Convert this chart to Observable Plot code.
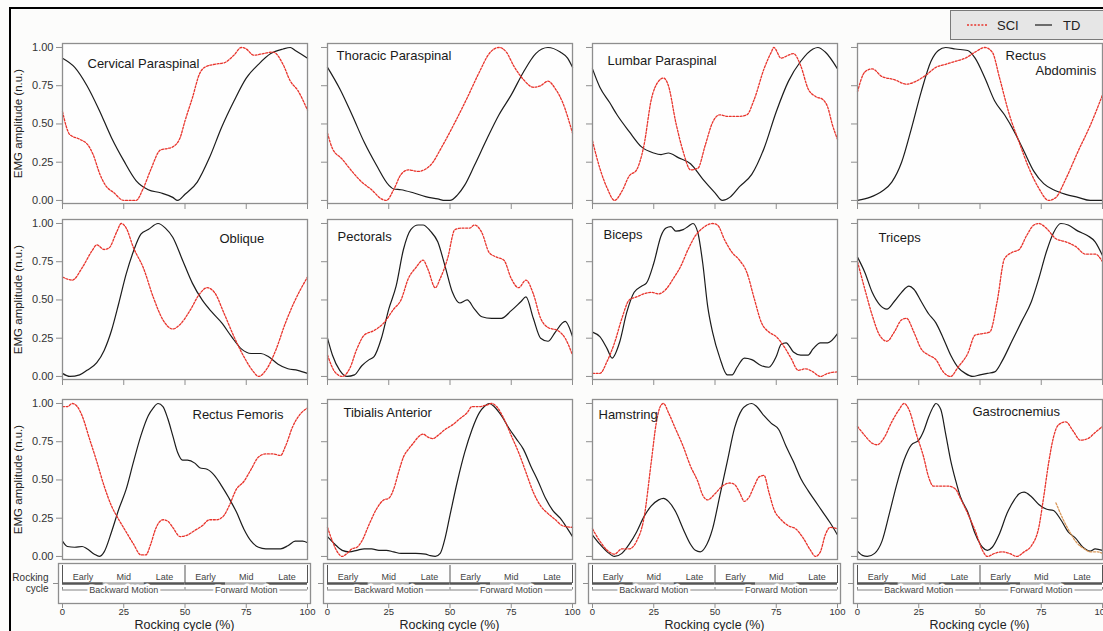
<!DOCTYPE html>
<html><head><meta charset="utf-8">
<script src="https://cdn.jsdelivr.net/npm/d3@7"></script>
<script src="https://cdn.jsdelivr.net/npm/@observablehq/plot@0.6"></script>
<style>
html,body{margin:0;padding:0;background:#fcfcfb;}
#fig{position:relative;width:1103px;height:631px;overflow:hidden;background:#fcfcfb;font-family:"Liberation Sans",Arial,Helvetica,sans-serif;}
#fig > *{position:absolute;}
</style></head>
<body><div id="fig"></div>
<script>
// ---------------- data ----------------
const muscles = ["Cervical Paraspinal","Thoracic Paraspinal","Lumbar Paraspinal","Rectus\nAbdominis",
  "Oblique","Pectorals","Biceps","Triceps",
  "Rectus Femoris","Tibialis Anterior","Hamstring","Gastrocnemius"];
const seriesNames = ["SCI","TD"];
const yTicks = [0,0.25,0.5,0.75,1];
const xTicks = [0,25,50,75,100];
const yLabel = "EMG amplitude (n.u.)";
const xLabel = "Rocking cycle (%)";
const phaseNames = ["Early","Mid","Late","Early","Mid","Late"];
const phaseBounds = [0,16.67,33.33,50,66.67,83.33,100];
const motionNames = ["Backward Motion","Forward Motion"];
const motionBounds = [0,50,100];
const stripLabel = ["Rocking","cycle"];

const cervTD=[[0,.93],[5,.87],[10,.75],[15,.59],[20,.41],[25,.26],[30,.13],[35,.07],[40,.05],[45,.02],[47,0],[50,.04],[55,.12],[60,.28],[65,.48],[70,.65],[75,.80],[80,.89],[85,.96],[90,.99],[93,1],[95,.98],[100,.93]];
const cervSCI=[[0,.58],[3,.43],[7,.40],[10.5,.36],[12.5,.30],[15.3,.17],[17.5,.10],[21,.05],[25,0],[30,0],[33,.08],[36,.2],[40,.33],[43,.34],[45,.35],[48,.41],[50,.52],[53,.67],[56,.83],[58,.87],[62,.89],[66,.90],[70,.95],[73,1],[75,.99],[78,.95],[82,.96],[86,.97],[90,.89],[93,.78],[96,.72],[100,.59]];
const thorTD=[[0,.87],[5,.73],[10,.56],[15,.38],[20,.23],[25,.10],[27,.075],[30,.07],[35,.05],[40,.025],[45,.01],[48,0],[50,0],[53,.035],[56,.1],[60,.23],[65,.40],[70,.56],[75,.69],[80,.84],[85,.96],[90,1],[95,.97],[98,.93],[100,.87]];
const thorSCI=[[0,.44],[2,.34],[6,.27],[10,.19],[14,.12],[18,.07],[22,.01],[24,0],[27,.07],[30,.17],[33,.2],[37,.19],[42,.23],[47,.36],[52,.51],[57,.67],[62,.84],[66,.96],[70,1],[73,.97],[76,.88],[80,.79],[84,.74],[87,.75],[90,.78],[93,.73],[96,.64],[100,.44]];
const lumbTD=[[0,.86],[3,.74],[7,.64],[10,.56],[15,.45],[20,.35],[25,.31],[28,.30],[31,.31],[35,.28],[40,.24],[45,.14],[50,.05],[53,0],[56,.02],[60,.09],[65,.17],[70,.34],[75,.58],[80,.78],[85,.91],[90,.99],[92,1],[95,.97],[100,.86]];
const lumbSCI=[[0,.39],[3,.21],[6,.08],[9,0],[12,.06],[15,.16],[18,.2],[21,.36],[24,.66],[27,.78],[29,.80],[31,.75],[34,.51],[37,.32],[40,.20],[43,.21],[46,.36],[49,.51],[52,.56],[55,.55],[60,.55],[63,.56],[66,.66],[70,.86],[73,.97],[74,1],[77,.93],[80,.95],[82,.96],[85,.88],[88,.73],[91,.68],[94,.66],[96,.61],[98,.49],[100,.40]];
const rabTD=[[0,0],[5,.02],[10,.06],[14,.12],[18,.25],[22,.47],[26,.71],[30,.91],[33,.98],[36,1],[40,.99],[45,.98],[48,.93],[52,.80],[56,.65],[60,.56],[64,.45],[68,.32],[72,.19],[76,.11],[80,.07],[85,.04],[90,.02],[95,0],[100,0]];
const rabSCI=[[0,.71],[3,.84],[6,.86],[10,.81],[15,.79],[20,.76],[24,.78],[28,.82],[32,.87],[36,.89],[40,.91],[44,.93],[48,.97],[52,1],[55,.97],[58,.80],[62,.56],[66,.38],[70,.21],[74,.08],[78,0],[81,.02],[85,.14],[90,.32],[95,.49],[100,.69]];
const oblTD=[[0,.02],[3,0],[7,.01],[10,.04],[14,.09],[17,.17],[20,.30],[23,.48],[26,.67],[29,.82],[32,.93],[35,.96],[39,1],[42,.97],[45,.91],[49,.76],[53,.61],[57,.50],[61,.42],[65,.35],[69,.26],[73,.18],[77,.15],[81,.15],[84,.13],[88,.08],[92,.05],[96,.04],[100,.02]];
const oblSCI=[[0,.65],[4,.63],[8,.71],[12,.82],[14,.86],[17,.83],[19,.84],[22,.94],[24,1],[26,.97],[29,.84],[33,.71],[37,.52],[41,.37],[45,.31],[48,.34],[52,.43],[56,.54],[59,.58],[62,.55],[66,.41],[70,.26],[74,.13],[78,.03],[80,0],[83,.04],[87,.17],[91,.35],[95,.50],[100,.65]];
const pecTD=[[0,.25],[2,.14],[5,.04],[8,0],[11,.01],[14,.07],[17,.11],[19,.13],[22,.25],[25,.44],[28,.59],[31,.83],[34,.96],[37,.99],[39,.99],[42,.95],[45,.88],[48,.72],[51,.55],[54,.48],[57,.50],[60,.44],[63,.39],[67,.38],[71,.38],[75,.43],[79,.49],[81,.52],[84,.38],[87,.25],[90,.23],[93,.29],[97,.36],[100,.26]];
const pecSCI=[[0,.14],[3,.03],[6,0],[9,.05],[12,.18],[15,.27],[19,.30],[23,.35],[27,.44],[30,.50],[33,.64],[36,.71],[39,.76],[41,.70],[44,.58],[46,.64],[49,.77],[52,.96],[55,.97],[58,.97],[60,.99],[63,.94],[66,.81],[69,.78],[72,.76],[75,.64],[78,.58],[81,.63],[84,.54],[87,.38],[90,.32],[94,.30],[97,.25],[100,.14]];
const bicTD=[[0,.29],[3,.26],[6,.18],[8,.12],[11,.22],[14,.42],[17,.55],[20,.59],[22,.61],[25,.74],[28,.92],[30,.97],[32,.98],[34,.95],[37,.96],[39,.98],[41,1],[43,.94],[45,.74],[47,.46],[49,.29],[52,.12],[55,.01],[57,.01],[59,.06],[62,.12],[65,.11],[69,.07],[72,.06],[75,.13],[77,.21],[79,.22],[82,.16],[85,.14],[88,.14],[90,.18],[93,.22],[96,.22],[100,.28]];
const bicSCI=[[0,.02],[3,.02],[6,.10],[9,.22],[12,.38],[15,.50],[18,.52],[21,.54],[24,.55],[27,.54],[30,.57],[33,.64],[36,.72],[39,.83],[42,.92],[45,.97],[49,1],[51,.99],[54,.89],[57,.81],[60,.76],[63,.68],[66,.51],[69,.35],[72,.29],[75,.26],[78,.20],[81,.12],[84,.04],[87,.05],[90,.03],[93,0],[96,.02],[100,.03]];
const triTD=[[0,.78],[3,.68],[6,.55],[9,.47],[12,.44],[15,.49],[18,.55],[21,.59],[23,.57],[26,.49],[29,.41],[32,.35],[35,.25],[38,.14],[41,.06],[44,.02],[47,0],[50,.01],[53,.02],[56,.03],[59,.10],[63,.23],[67,.36],[71,.49],[74,.64],[77,.81],[80,.94],[83,1],[86,.99],[90,.95],[94,.92],[97,.88],[100,.79]];
const triSCI=[[0,.75],[3,.57],[6,.40],[9,.27],[12,.23],[15,.29],[18,.37],[20,.38],[23,.29],[26,.18],[29,.14],[32,.11],[35,.03],[38,0],[41,.06],[45,.15],[48,.27],[51,.28],[54,.29],[57,.49],[60,.77],[63,.81],[66,.83],[69,.92],[72,.99],[74,1],[77,.97],[81,.90],[85,.88],[89,.85],[93,.80],[97,.80],[100,.75]];
const rfTD=[[0,.10],[2,.065],[5,.06],[8,.065],[10,.05],[13,.015],[15,0],[17,.03],[20,.16],[23,.31],[26,.44],[29,.62],[32,.79],[35,.92],[37,.97],[39,1],[41,.98],[43,.90],[45,.79],[47,.68],[49,.63],[51,.63],[54,.61],[56,.58],[59,.57],[62,.53],[65,.46],[68,.38],[71,.29],[74,.18],[77,.10],[80,.06],[83,.05],[86,.05],[89,.05],[92,.07],[95,.10],[98,.10],[100,.09]];
const rfSCI=[[0,.98],[2,.98],[4,1],[6,.98],[8,.92],[11,.77],[14,.62],[17,.46],[20,.33],[23,.24],[26,.16],[29,.08],[32,.01],[34,.01],[36,.08],[38,.18],[41,.24],[43,.23],[45,.19],[48,.13],[51,.14],[54,.17],[57,.20],[60,.24],[63,.24],[66,.27],[68,.33],[71,.44],[74,.49],[77,.57],[80,.65],[83,.67],[86,.67],[89,.66],[91,.72],[94,.85],[97,.93],[100,.97]];
const taTD=[[0,.13],[3,.08],[6,.04],[9,.03],[12,.04],[15,.05],[18,.05],[21,.04],[24,.04],[27,.03],[30,.02],[33,.02],[36,.02],[40,.015],[42,.005],[44,0],[46,.02],[48,.12],[50,.27],[53,.49],[56,.68],[59,.83],[62,.94],[64,.98],[66,1],[68,.98],[71,.92],[74,.84],[77,.77],[80,.70],[83,.59],[86,.49],[89,.38],[92,.30],[95,.25],[98,.18],[100,.13]];
const taSCI=[[0,.19],[2,.10],[4,.03],[6,0],[8,.02],[10,.05],[12,.06],[14,.10],[17,.21],[20,.31],[23,.37],[25,.38],[27,.44],[29,.55],[31,.65],[33,.70],[35,.74],[37,.78],[39,.80],[41,.78],[43,.77],[45,.79],[48,.83],[51,.86],[54,.90],[57,.94],[59,.98],[62,.98],[65,.99],[67,1],[69,.98],[72,.90],[75,.79],[78,.68],[81,.55],[84,.42],[87,.33],[90,.28],[93,.24],[96,.20],[100,.19]];
const hamTD=[[0,.14],[3,.08],[6,.03],[9,0],[12,.02],[15,.08],[18,.16],[21,.26],[24,.33],[27,.37],[29,.38],[31,.36],[34,.29],[37,.18],[40,.08],[42,.04],[44,.03],[46,.06],[49,.18],[52,.40],[55,.62],[58,.84],[61,.96],[63,.99],[65,1],[67,.98],[70,.92],[73,.87],[76,.83],[79,.72],[82,.62],[85,.51],[88,.43],[91,.36],[94,.29],[97,.22],[100,.14]];
const hamSCI=[[0,.18],[3,.10],[6,.04],[9,.015],[12,.05],[15,.05],[18,.10],[21,.25],[24,.62],[26,.87],[28,.99],[29,1],[31,.94],[34,.83],[37,.72],[40,.59],[43,.49],[45,.40],[47,.37],[50,.41],[53,.46],[56,.48],[58,.47],[60,.42],[62,.36],[64,.39],[66,.46],[68,.52],[70,.53],[72,.42],[74,.31],[77,.24],[80,.20],[83,.18],[86,.12],[89,.04],[91,0],[93,.03],[95,.14],[97,.19],[100,.18]];
const gasTD=[[0,.035],[2,.007],[4,0],[7,.02],[10,.10],[13,.28],[16,.47],[19,.63],[22,.73],[25,.76],[27,.82],[29,.91],[31,.98],[32,1],[34,.96],[36,.80],[38,.63],[40,.50],[42,.39],[45,.29],[48,.15],[51,.06],[53,.04],[55,.06],[58,.15],[61,.28],[64,.37],[66,.41],[68,.42],[71,.39],[74,.34],[77,.31],[80,.30],[83,.24],[86,.16],[89,.12],[92,.06],[95,.035],[97,.05],[100,.04]];
const gasSCI=[[0,.85],[3,.79],[6,.74],[8,.73],[11,.78],[14,.88],[17,.96],[19,1],[21,.96],[24,.80],[27,.65],[29,.52],[31,.46],[34,.46],[37,.46],[40,.44],[42,.38],[45,.28],[48,.17],[51,.04],[53,0],[56,.02],[59,.03],[62,.02],[65,0],[68,.03],[71,.07],[74,.19],[76,.39],[78,.61],[80,.78],[82,.86],[85,.88],[88,.82],[91,.76],[94,.77],[97,.81],[100,.85]];
const gasExtra=[[81,.35],[84,.24],[87,.15],[89.5,.09],[92.5,.05],[95,.03],[98,.03],[100,.02]];

const tdSeries  = [cervTD,thorTD,lumbTD,rabTD,oblTD,pecTD,bicTD,triTD,rfTD,taTD,hamTD,gasTD];
const sciSeries = [cervSCI,thorSCI,lumbSCI,rabSCI,oblSCI,pecSCI,bicSCI,triSCI,rfSCI,taSCI,hamSCI,gasSCI];
const extraSeries = {11: gasExtra};

// ---------------- layout / style ----------------
const FONT = '"Liberation Sans", Arial, Helvetica, sans-serif';
const colLeft = c => 62 + 265*c;
const rowTop = [43, 219, 399];
const PW = 245, PH = 160;
const RED = "#e8342c", BLACK = "#1c1c1c", FRAME = "#8e8e8e";
// title placement (offset from panel top-left): [dx, dy] per line
const titleOffsets = [
  [[25,20]], [[9,12]], [[15,17]], [[148,12],[178,27]],
  [[157,19]], [[10,17]], [[11,15]], [[21,18]],
  [[130,15]], [[16,13]], [[6,15]], [[115,12]]
];

const fig = document.getElementById("fig");

function panel(i) {
  const r = Math.floor(i/4), c = i%4;
  const ml = c===0 ? 54 : 8, mr = 2, mt = 1, mb = r<2 ? 9 : 1;
  const lines = muscles[i].split("\n");
  const marks = [
    Plot.frame({fill:"#fefefe", stroke:null}),
    Plot.axisY({ticks:yTicks, tickSize:6, tickPadding:3, label:null,
      tickFormat: c===0 ? d3.format(".2f") : () => "", stroke:FRAME, fill:"#333", fontSize:11}),
  ];
  if (r<2) marks.push(Plot.axisX({ticks:xTicks, tickSize:6, label:null, tickFormat:()=>"", stroke:FRAME}));
  marks.push(
    Plot.line(tdSeries[i], {x:d=>d[0], y:d=>d[1], stroke:BLACK, strokeWidth:1.2, curve:"monotone-x"}),
    Plot.line(sciSeries[i], {x:d=>d[0], y:d=>d[1], stroke:RED, strokeWidth:1.3, strokeDasharray:"2,1.6", curve:"monotone-x"})
  );
  if (extraSeries[i]) marks.push(Plot.line(extraSeries[i], {x:d=>d[0], y:d=>d[1], stroke:"#d9985a", strokeWidth:1.3, strokeDasharray:"2,1.6", curve:"monotone-x"}));
  marks.push(Plot.frame({stroke:FRAME, strokeWidth:1.3}));
  lines.forEach((t,k) => {
    const [dx,dy] = titleOffsets[i][k];
    marks.push(Plot.text([t], {frameAnchor:"top-left", text:d=>d, textAnchor:"start", lineAnchor:"middle", dx, dy, fontSize:13, fill:"#1a1a1a"}));
  });
  if (c===0) marks.push(Plot.text([yLabel], {frameAnchor:"left", text:d=>d, rotate:-90, textAnchor:"middle", lineAnchor:"middle", dx:-44, fontSize:11.5, fill:"#222"}));
  const p = Plot.plot({
    width: PW+ml+mr, height: PH+mt+mb,
    marginLeft:ml, marginRight:mr, marginTop:mt, marginBottom:mb,
    x:{domain:[0,100], axis: r<2 ? undefined : null},
    y:{domain:[-0.02,1.026]},
    style:{background:"transparent", fontFamily:FONT, overflow:"visible"},
    marks
  });
  p.style.position = "absolute";
  p.style.left = (colLeft(c)-ml)+"px";
  p.style.top = (rowTop[r]-mt)+"px";
  fig.appendChild(p);
}

const phases = phaseNames.map((n,k)=>({name:n, start:phaseBounds[k], end:phaseBounds[k+1], dark: k%3!==1}));
const motions = motionNames.map((n,k)=>({name:n, start:motionBounds[k], end:motionBounds[k+1]}));

function strip(c) {
  const ml = c===0 ? 60 : 12, mr = 6, mt = 0, mb = 28, W = 252;
  const marks = [
    Plot.frame({fill:"#fefefe", stroke:FRAME, strokeWidth:1.3}),
    Plot.axisY({ticks:[20], tickSize:5, tickFormat:()=>"", label:null, stroke:FRAME}),
    Plot.ruleX(motionBounds, {y1:()=>2, y2:()=>20, stroke:"#555", strokeWidth:1}),
    Plot.ruleY(phases, {x1:"start", x2:"end", y:()=>20, stroke:d=>d.dark?"#555":"#b0b0b0", strokeWidth:2.4}),
    Plot.text(phases, {x:d=>(d.start+d.end)/2, y:()=>14, text:"name", fontSize:9, fill:"#444"}),
    Plot.ruleY(motions, {x1:"start", x2:"end", y:()=>26.5, stroke:"#666", strokeWidth:0.8}),
    Plot.ruleX(motionBounds, {y1:()=>24, y2:()=>26.5, stroke:"#666", strokeWidth:0.8}),
    Plot.text(motions, {x:d=>(d.start+d.end)/2, y:()=>26.5, text:"name", fontSize:9, fill:"#444", stroke:"#fefefe", strokeWidth:5}),
    Plot.axisX({ticks:xTicks, tickSize:5, tickPadding:0, label:null, stroke:FRAME, fill:"#333", fontSize:9.5}),
    Plot.text([xLabel], {frameAnchor:"bottom", text:d=>d, lineAnchor:"middle", dy:21, fontSize:12.5, fill:"#222"})
  ];
  if (c===0) marks.push(Plot.text(stripLabel, {frameAnchor:"left", text:d=>d, y:(d,k)=>[14,25][k], dx:-10, textAnchor:"end", fontSize:10, fill:"#333"}));
  const p = Plot.plot({
    width: ml+W+mr, height: 40+mt+mb,
    marginLeft:ml, marginRight:mr, marginTop:mt, marginBottom:mb,
    x:{domain:[0,100], range:[ml+4, ml+4+PW]},
    y:{domain:[0,40], range:[0,40]},
    style:{background:"transparent", fontFamily:FONT, overflow:"visible"},
    marks
  });
  p.style.position = "absolute";
  p.style.left = (colLeft(c)-4-ml)+"px";
  p.style.top = "563px";
  fig.appendChild(p);
}

for (let i=0;i<12;i++) panel(i);
for (let c=0;c<4;c++) strip(c);

// outer figure border (top/left)
const border = document.createElement("div");
border.style.cssText = "left:9px;top:7px;width:1200px;height:700px;border-left:2.5px solid #000;border-top:2.5px solid #000;pointer-events:none;";
fig.appendChild(border);

// legend
const leg = document.createElement("div");
leg.style.cssText = "left:950px;top:10px;width:170px;height:30px;background:#e6e6e6;border:1.5px solid #7a7a7a;box-sizing:border-box;";
leg.innerHTML = `<svg width="170" height="28" style="position:absolute;left:0;top:0;font-family:${FONT.replace(/"/g,"'")}">
<line x1="16" x2="36" y1="14" y2="14" stroke="${RED}" stroke-width="1.3" stroke-dasharray="2,1.6"/>
<text x="46" y="18.5" font-size="13" fill="#222">${seriesNames[0]}</text>
<line x1="84" x2="101" y1="14" y2="14" stroke="${BLACK}" stroke-width="1.2"/>
<text x="112" y="18.5" font-size="13" fill="#222">${seriesNames[1]}</text></svg>`;
fig.appendChild(leg);
</script></body></html>
